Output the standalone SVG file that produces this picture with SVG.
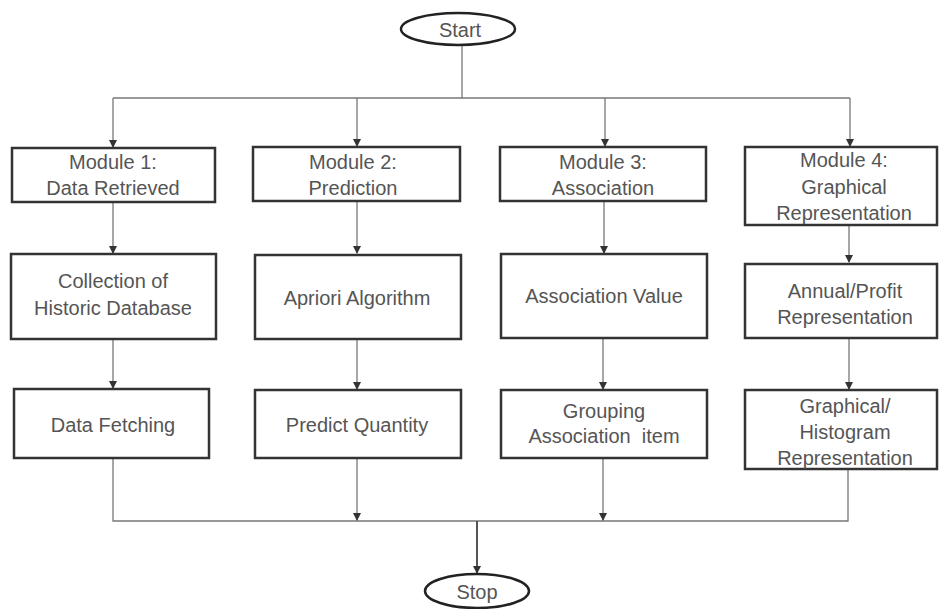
<svg xmlns="http://www.w3.org/2000/svg" width="940" height="609" viewBox="0 0 940 609">
<style>
.box{fill:#fff;stroke:#333;stroke-width:2.5}
.term{fill:#fff;stroke:#222;stroke-width:2.5}
.t{font-family:"Liberation Sans",Arial,sans-serif;font-size:20px;fill:#555;text-anchor:middle}
.c{fill:none;stroke:#777;stroke-width:1.3}
</style>
<defs>
<marker id="ah" markerWidth="8" markerHeight="8" refX="7" refY="4" orient="auto" markerUnits="userSpaceOnUse">
<path d="M0,0 L8,4 L0,8 z" fill="#333"/>
</marker>
</defs>
<rect width="940" height="609" fill="#fff"/>
<g id="connectors">
<line class="c" x1="462" y1="45" x2="462" y2="98"/>
<line class="c" x1="113" y1="98" x2="850" y2="98"/>
<line class="c" x1="113" y1="98" x2="113" y2="147" marker-end="url(#ah)"/>
<line class="c" x1="357" y1="98" x2="357" y2="146" marker-end="url(#ah)"/>
<line class="c" x1="605" y1="98" x2="605" y2="146" marker-end="url(#ah)"/>
<line class="c" x1="850" y1="98" x2="850" y2="146" marker-end="url(#ah)"/>
<line class="c" x1="113" y1="202" x2="113" y2="253" marker-end="url(#ah)"/>
<line class="c" x1="357" y1="201" x2="357" y2="253" marker-end="url(#ah)"/>
<line class="c" x1="604" y1="201" x2="604" y2="253" marker-end="url(#ah)"/>
<line class="c" x1="849" y1="225" x2="849" y2="262" marker-end="url(#ah)"/>
<line class="c" x1="113" y1="339" x2="113" y2="388" marker-end="url(#ah)"/>
<line class="c" x1="357" y1="339" x2="357" y2="389" marker-end="url(#ah)"/>
<line class="c" x1="603" y1="338" x2="603" y2="389" marker-end="url(#ah)"/>
<line class="c" x1="849" y1="338" x2="849" y2="389" marker-end="url(#ah)"/>
<polyline class="c" points="113,458 113,521 848,521 848,469"/>
<line class="c" x1="357" y1="458" x2="357" y2="520" marker-end="url(#ah)"/>
<line class="c" x1="603" y1="458" x2="603" y2="520" marker-end="url(#ah)"/>
<line x1="477" y1="521" x2="477" y2="573" stroke="#555" stroke-width="2" marker-end="url(#ah)"/>
</g>
<g id="start">
<ellipse class="term" cx="458" cy="29" rx="57" ry="16"/>
<text class="t" x="460" y="37">Start</text>
</g>
<g id="m1">
<rect class="box" x="12" y="148" width="203" height="54"/>
<text class="t" x="113" y="169">Module 1:</text>
<text class="t" x="113" y="195">Data Retrieved</text>
</g>
<g id="m2">
<rect class="box" x="253" y="147" width="207" height="54"/>
<text class="t" x="353" y="169">Module 2:</text>
<text class="t" x="353" y="195">Prediction</text>
</g>
<g id="m3">
<rect class="box" x="500" y="147" width="206" height="54"/>
<text class="t" x="603" y="169">Module 3:</text>
<text class="t" x="603" y="195">Association</text>
</g>
<g id="m4">
<rect class="box" x="745" y="147" width="192" height="78"/>
<text class="t" x="844" y="167">Module 4:</text>
<text class="t" x="844" y="194">Graphical</text>
<text class="t" x="844" y="220">Representation</text>
</g>
<g id="collection">
<rect class="box" x="11" y="254" width="205" height="85"/>
<text class="t" x="113" y="288">Collection of</text>
<text class="t" x="113" y="315">Historic Database</text>
</g>
<g id="apriori">
<rect class="box" x="255" y="255" width="206" height="84"/>
<text class="t" x="357" y="305">Apriori Algorithm</text>
</g>
<g id="assocvalue">
<rect class="box" x="501" y="254" width="206" height="84"/>
<text class="t" x="604" y="303">Association Value</text>
</g>
<g id="annual">
<rect class="box" x="745" y="264" width="192" height="74"/>
<text class="t" x="845" y="298">Annual/Profit</text>
<text class="t" x="845" y="324">Representation</text>
</g>
<g id="fetching">
<rect class="box" x="14" y="389" width="195" height="69"/>
<text class="t" x="113" y="432">Data Fetching</text>
</g>
<g id="predict">
<rect class="box" x="255" y="390" width="206" height="68"/>
<text class="t" x="357" y="432">Predict Quantity</text>
</g>
<g id="grouping">
<rect class="box" x="501" y="390" width="206" height="68"/>
<text class="t" x="604" y="418">Grouping</text>
<text class="t" x="604" y="443" style="white-space:pre">Association  item</text>
</g>
<g id="histogram">
<rect class="box" x="745" y="390" width="192" height="79"/>
<text class="t" x="845" y="413">Graphical/</text>
<text class="t" x="845" y="439">Histogram</text>
<text class="t" x="845" y="465">Representation</text>
</g>
<g id="stop">
<ellipse class="term" cx="477" cy="591" rx="52" ry="17"/>
<text class="t" x="477" y="599">Stop</text>
</g>
</svg>
